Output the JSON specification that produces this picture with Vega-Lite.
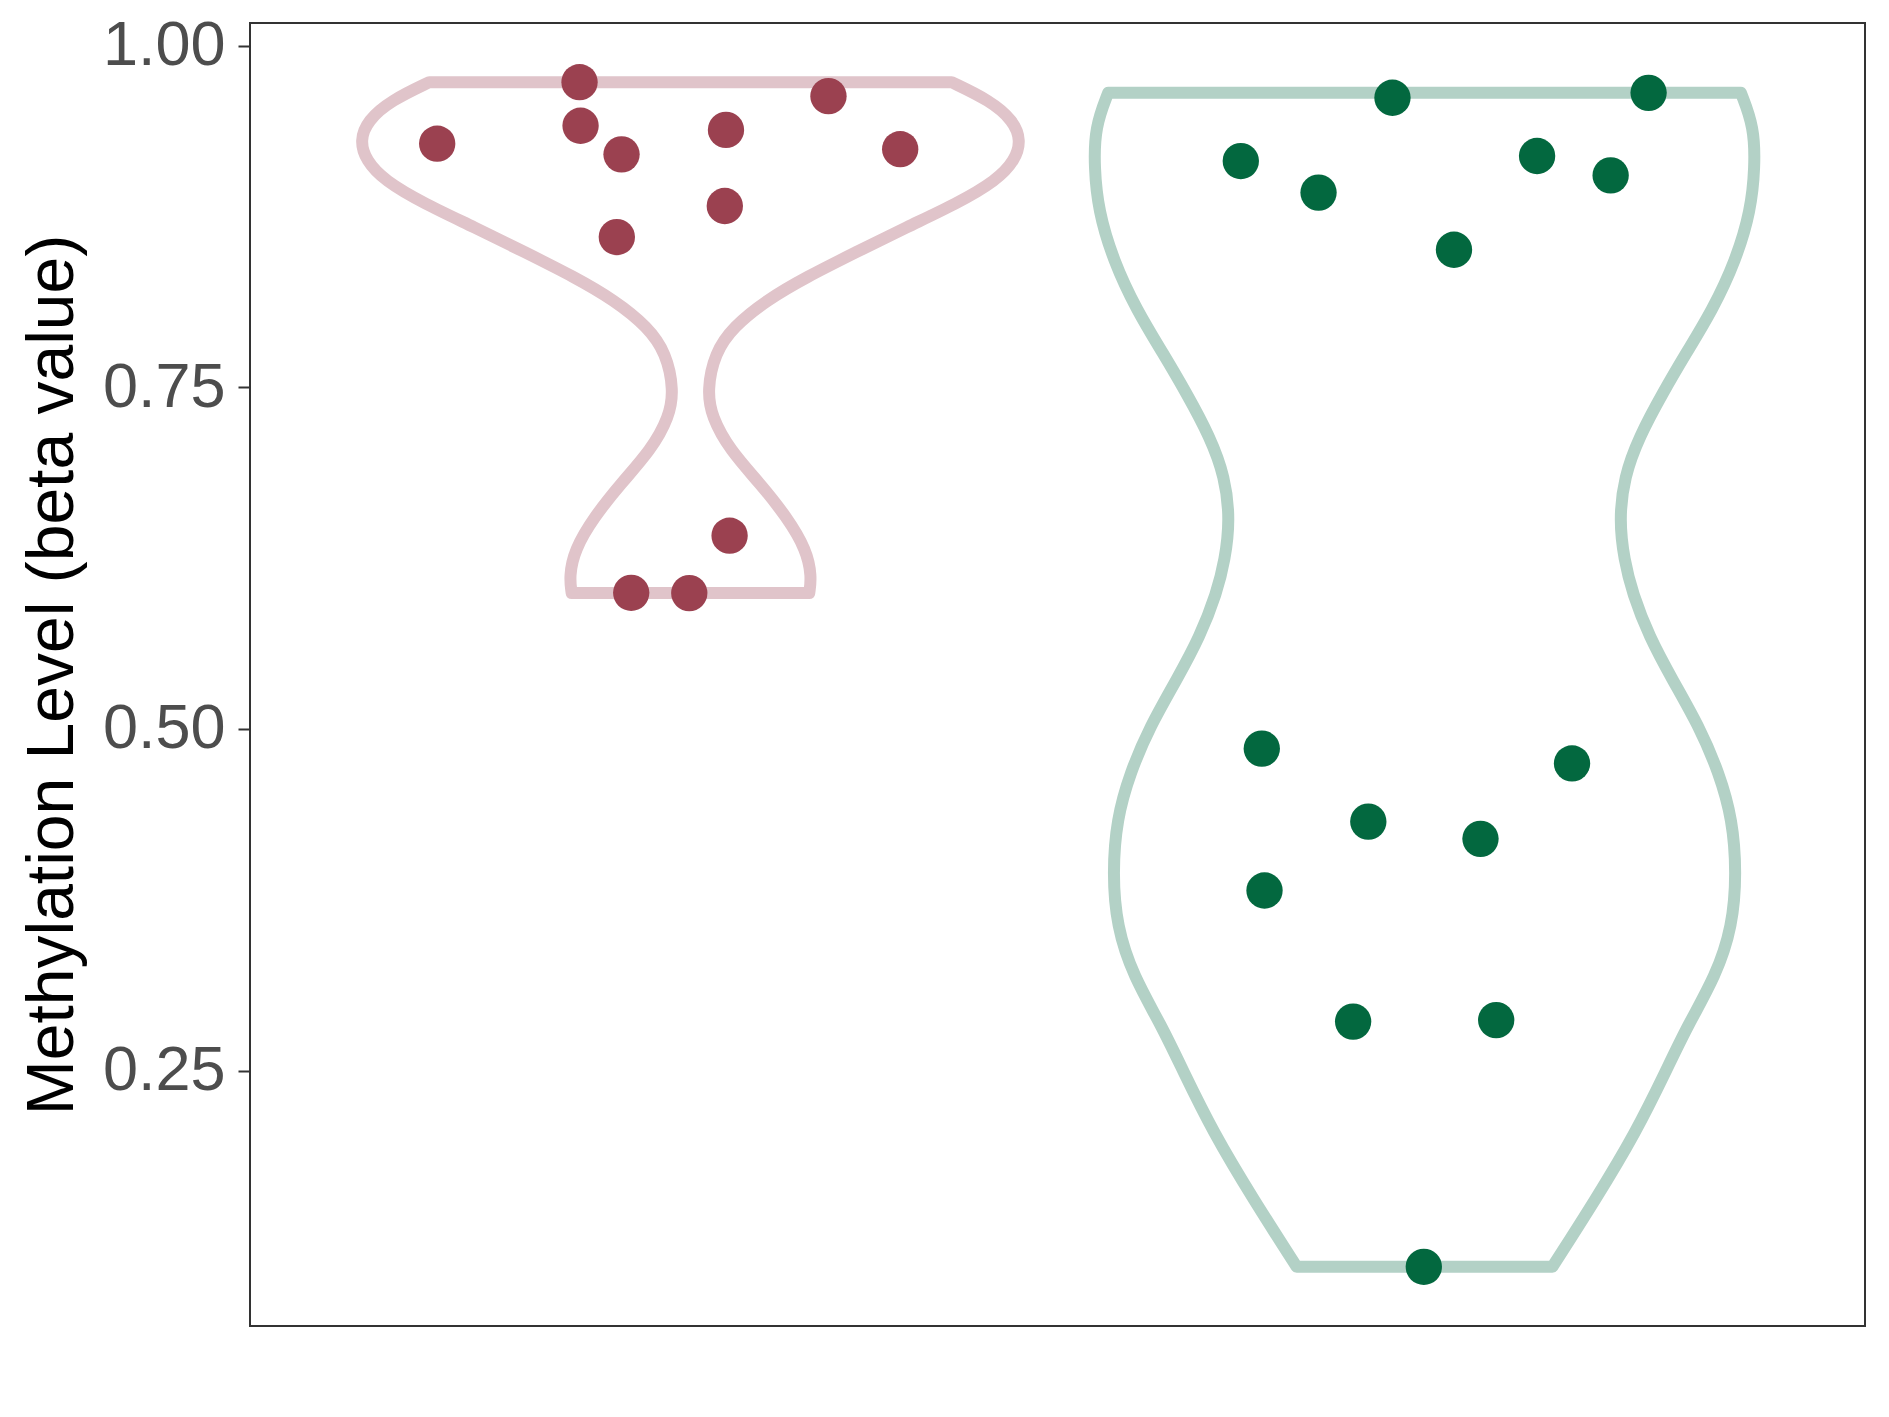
{
  "$schema": "https://vega.github.io/schema/vega-lite/v6.json",
  "autosize": "none",
  "width": 1615,
  "height": 1303,
  "padding": {"left": 250, "top": 23, "right": 24, "bottom": 91},
  "background": "white",
  "config": {
    "view": {"stroke": "#333333", "strokeWidth": 2},
    "font": "Liberation Sans"
  },
  "datasets": {
    "violins": [
      {"g": "A", "v": 0.9732, "lo": 0.6442, "hi": 1.3558},
      {"g": "A", "v": 0.9598, "lo": 0.5920, "hi": 1.4080},
      {"g": "A", "v": 0.9452, "lo": 0.5602, "hi": 1.4398},
      {"g": "A", "v": 0.9306, "lo": 0.5497, "hi": 1.4503},
      {"g": "A", "v": 0.9160, "lo": 0.5579, "hi": 1.4421},
      {"g": "A", "v": 0.9013, "lo": 0.5829, "hi": 1.4171},
      {"g": "A", "v": 0.8843, "lo": 0.6374, "hi": 1.3626},
      {"g": "A", "v": 0.8672, "lo": 0.7055, "hi": 1.2945},
      {"g": "A", "v": 0.8490, "lo": 0.7736, "hi": 1.2264},
      {"g": "A", "v": 0.8307, "lo": 0.8418, "hi": 1.1582},
      {"g": "A", "v": 0.8137, "lo": 0.8963, "hi": 1.1037},
      {"g": "A", "v": 0.7942, "lo": 0.9418, "hi": 1.0582},
      {"g": "A", "v": 0.7749, "lo": 0.9670, "hi": 1.0330},
      {"g": "A", "v": 0.7479, "lo": 0.9772, "hi": 1.0228},
      {"g": "A", "v": 0.7284, "lo": 0.9712, "hi": 1.0288},
      {"g": "A", "v": 0.7041, "lo": 0.9463, "hi": 1.0537},
      {"g": "A", "v": 0.6797, "lo": 0.9054, "hi": 1.0946},
      {"g": "A", "v": 0.6553, "lo": 0.8690, "hi": 1.1310},
      {"g": "A", "v": 0.6310, "lo": 0.8418, "hi": 1.1582},
      {"g": "A", "v": 0.6115, "lo": 0.8350, "hi": 1.1650},
      {"g": "A", "v": 0.5994, "lo": 0.8382, "hi": 1.1618},
      {"g": "B", "v": 0.9655, "lo": 1.5691, "hi": 2.4309},
      {"g": "B", "v": 0.9403, "lo": 1.5510, "hi": 2.4490},
      {"g": "B", "v": 0.9111, "lo": 1.5500, "hi": 2.4500},
      {"g": "B", "v": 0.8794, "lo": 1.5555, "hi": 2.4445},
      {"g": "B", "v": 0.8429, "lo": 1.5759, "hi": 2.4241},
      {"g": "B", "v": 0.8064, "lo": 1.6078, "hi": 2.3922},
      {"g": "B", "v": 0.7747, "lo": 1.6440, "hi": 2.3560},
      {"g": "B", "v": 0.7455, "lo": 1.6759, "hi": 2.3241},
      {"g": "B", "v": 0.7138, "lo": 1.7077, "hi": 2.2923},
      {"g": "B", "v": 0.6845, "lo": 1.7281, "hi": 2.2719},
      {"g": "B", "v": 0.6529, "lo": 1.7349, "hi": 2.2651},
      {"g": "B", "v": 0.6237, "lo": 1.7281, "hi": 2.2719},
      {"g": "B", "v": 0.5993, "lo": 1.7168, "hi": 2.2832},
      {"g": "B", "v": 0.5676, "lo": 1.6941, "hi": 2.3059},
      {"g": "B", "v": 0.5360, "lo": 1.6623, "hi": 2.3377},
      {"g": "B", "v": 0.5019, "lo": 1.6259, "hi": 2.3741},
      {"g": "B", "v": 0.4678, "lo": 1.5987, "hi": 2.4013},
      {"g": "B", "v": 0.4337, "lo": 1.5805, "hi": 2.4195},
      {"g": "B", "v": 0.3947, "lo": 1.5751, "hi": 2.4249},
      {"g": "B", "v": 0.3557, "lo": 1.5805, "hi": 2.4195},
      {"g": "B", "v": 0.3192, "lo": 1.6032, "hi": 2.3968},
      {"g": "B", "v": 0.2827, "lo": 1.6420, "hi": 2.3580},
      {"g": "B", "v": 0.2510, "lo": 1.6700, "hi": 2.3300},
      {"g": "B", "v": 0.2047, "lo": 1.7122, "hi": 2.2878},
      {"g": "B", "v": 0.1560, "lo": 1.7667, "hi": 2.2333},
      {"g": "B", "v": 0.1065, "lo": 1.8258, "hi": 2.1742}
    ],
    "points": [
      {"g": "A", "x": 0.655, "v": 0.9282},
      {"g": "A", "x": 0.8489, "v": 0.9732},
      {"g": "A", "x": 0.8503, "v": 0.9413},
      {"g": "A", "x": 0.9061, "v": 0.9204},
      {"g": "A", "x": 1.0484, "v": 0.9383},
      {"g": "A", "x": 1.188, "v": 0.963},
      {"g": "A", "x": 1.2857, "v": 0.9242},
      {"g": "A", "x": 0.8997, "v": 0.8599},
      {"g": "A", "x": 1.0468, "v": 0.8826},
      {"g": "A", "x": 1.0533, "v": 0.6414},
      {"g": "A", "x": 0.9193, "v": 0.5996},
      {"g": "A", "x": 0.9984, "v": 0.5994},
      {"g": "B", "x": 1.7497, "v": 0.9155},
      {"g": "B", "x": 1.8556, "v": 0.8924},
      {"g": "B", "x": 1.9563, "v": 0.9618},
      {"g": "B", "x": 2.0401, "v": 0.8506},
      {"g": "B", "x": 2.1533, "v": 0.9192},
      {"g": "B", "x": 2.2535, "v": 0.905},
      {"g": "B", "x": 2.3052, "v": 0.9654},
      {"g": "B", "x": 1.7783, "v": 0.4856},
      {"g": "B", "x": 1.9234, "v": 0.4322},
      {"g": "B", "x": 2.0762, "v": 0.4196},
      {"g": "B", "x": 2.2009, "v": 0.4748},
      {"g": "B", "x": 1.782, "v": 0.3818},
      {"g": "B", "x": 1.9027, "v": 0.2859},
      {"g": "B", "x": 2.0976, "v": 0.287},
      {"g": "B", "x": 1.999, "v": 0.1065}
    ]
  },
  "layer": [
    {
      "data": {"name": "violins"},
      "mark": {"type": "area", "orient": "horizontal", "interpolate": "basis", "fillOpacity": 0, "strokeWidth": 12, "strokeJoin": "round", "clip": true},
      "encoding": {
        "y": {"field": "v", "type": "quantitative", "scale": {"domain": [0.0632, 1.0165], "nice": false, "zero": false},
          "axis": {
            "title": "Methylation Level (beta value)",
            "values": [0.25, 0.5, 0.75, 1.0],
            "format": ".2f",
            "grid": false,
            "domain": false,
            "ticks": true,
            "tickSize": 12,
            "tickWidth": 2,
            "tickColor": "#333333",
            "labelFont": "Liberation Sans",
            "labelFontSize": 63,
            "labelColor": "#4D4D4D",
            "labelPadding": 13,
            "titleFont": "Liberation Sans",
            "titleFontSize": 66,
            "titleFontWeight": "normal",
            "titleColor": "#000000",
            "titleAngle": 270,
            "titleBaseline": "alphabetic",
            "titleAlign": "center",
            "titleX": -178,
            "titleY": 651.5
          }
        },
        "x": {"field": "lo", "type": "quantitative", "scale": {"domain": [0.4, 2.6], "nice": false, "zero": false}, "axis": null},
        "x2": {"field": "hi"},
        "stroke": {"field": "g", "type": "nominal", "scale": {"domain": ["A", "B"], "range": ["#E0C4CA", "#B3D1C6"]}, "legend": null}
      }
    },
    {
      "data": {"name": "points"},
      "mark": {"type": "circle", "size": 1320, "opacity": 1},
      "encoding": {
        "x": {"field": "x", "type": "quantitative"},
        "y": {"field": "v", "type": "quantitative"},
        "color": {"field": "g", "type": "nominal", "scale": {"domain": ["A", "B"], "range": ["#9B4150", "#03683F"]}, "legend": null}
      }
    }
  ]
}
